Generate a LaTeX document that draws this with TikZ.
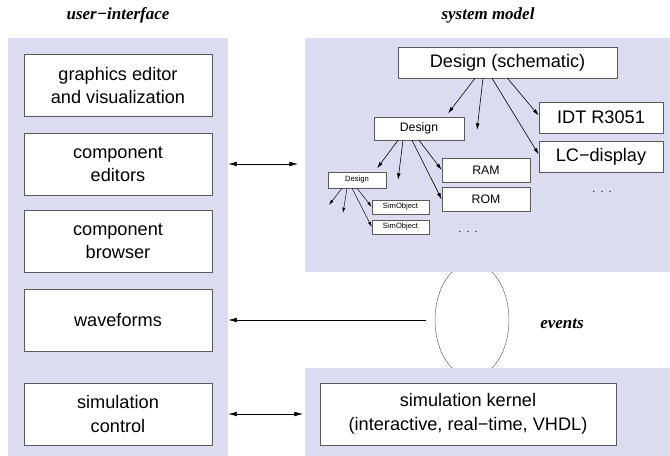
\documentclass[tikz,border=0pt]{standalone}
\usepackage{fontspec}
\setmainfont{Liberation Sans}
\newfontfamily\capfont{Liberation Serif}
\usetikzlibrary{arrows.meta,shapes.geometric}
\definecolor{panel}{RGB}{220,220,240}
\definecolor{rim}{RGB}{90,90,90}

\begin{document}
\begin{tikzpicture}[x=0.03cm, y=-0.03cm,
    panelbox/.style = {fill=panel, draw=none, inner sep=0pt},
    unit/.style = {draw=rim, fill=white, line width=0.5pt, inner sep=0pt, align=center},
    bigbox/.style = {unit, font=\fontsize{15.5}{20}\selectfont},
    midbox/.style = {unit, font=\fontsize{10.5}{12}\selectfont},
    smallbox/.style = {unit, line width=0.4pt, font=\fontsize{6.5}{8}\selectfont},
    caption/.style = {font=\capfont\bfseries\itshape\fontsize{14.5}{17}\selectfont},
    arr/.style = {-{Latex[length=2.6mm,width=1.4mm]}, line width=0.5pt},
    both/.style = {{Latex[length=2.6mm,width=1.4mm]}-{Latex[length=2.6mm,width=1.4mm]}, line width=0.5pt},
    sub/.style = {-{Latex[length=2mm,width=1.1mm]}, line width=0.5pt},
    subsub/.style = {-{Latex[length=1.6mm,width=0.9mm]}, line width=0.4pt}]
\useasboundingbox (0,0) rectangle (670,456);

% events lens, partly hidden by the panels
\node[draw=rim, ellipse, line width=0.4pt, minimum width=2.22cm, minimum height=3.42cm] (lens) at (472,320) {};

% panels
\node[panelbox, minimum width=6.6cm, minimum height=12.54cm] (ui) at (118,247) {};
\node[panelbox, minimum width=10.95cm, minimum height=7.02cm] (sm) at (487.5,155) {};
\node[panelbox, minimum width=10.95cm, minimum height=2.64cm] (sk) at (487.5,412) {};

\node[caption] (uit) at (118,15) {user−interface};
\node[caption] (smt) at (488,15) {system model};
\node[caption] (evt) at (562,324) {events};

% user-interface
\node[bigbox, minimum width=5.64cm, minimum height=1.86cm] (gfx) at (118,85.5) {graphics editor\\and visualization};
\node[bigbox, minimum width=5.64cm, minimum height=1.86cm] (ced) at (118,164) {component\\editors};
\node[bigbox, minimum width=5.64cm, minimum height=1.86cm] (cbr) at (118,241) {component\\browser};
\node[bigbox, minimum width=5.64cm, minimum height=1.86cm] (wav) at (118,320.5) {waveforms};
\node[bigbox, minimum width=5.64cm, minimum height=1.86cm] (ctl) at (118,414) {simulation\\control};

% system model
\node[bigbox, minimum width=6.57cm, minimum height=0.93cm] (dsch) at (507.5,62.5) {Design (schematic)};
\node[bigbox, minimum width=3.72cm, minimum height=0.93cm] (idt) at (601,117.5) {IDT R3051};
\node[bigbox, minimum width=3.72cm, minimum height=0.93cm] (lcd) at (601,156.5) {LC−display};
\node[midbox, minimum width=2.7cm, minimum height=0.69cm] (des) at (419,128.5) {Design};
\node[midbox, minimum width=2.64cm, minimum height=0.71cm] (ram) at (486,170) {RAM};
\node[midbox, minimum width=2.64cm, minimum height=0.71cm] (rom) at (486,199.5) {ROM};
\node[smallbox, minimum width=1.74cm, minimum height=0.48cm] (sdes) at (357,180) {Design};
\node[smallbox, minimum width=1.71cm, minimum height=0.42cm] (so1) at (400.5,207) {SimObject};
\node[smallbox, minimum width=1.71cm, minimum height=0.42cm] (so2) at (400.5,227) {SimObject};
\node[font=\fontsize{9}{10}\selectfont] (more1) at (602,192) {.\enspace.\enspace.};
\node[font=\fontsize{9}{10}\selectfont] (more2) at (468,232) {.\enspace.\enspace.};

\coordinate (free1) at (477,130);
\coordinate (free2) at (398,180);
\coordinate (free3) at (329,205);
\coordinate (free4) at (343,213);

\draw[sub] ([xshift=-0.975cm]dsch.south) -- ([xshift=0.87cm,yshift=0.1cm]des.north);
\draw[sub] ([xshift=-0.735cm]dsch.south) -- (free1);
\draw[sub] ([xshift=-0.465cm]dsch.south) -- ([yshift=0.06cm]lcd.west);
\draw[sub] (dsch.south) -- ([yshift=0.06cm]idt.west);

\draw[sub] ([xshift=-0.63cm]des.south) -- ([xshift=0.6cm,yshift=0.1cm]sdes.north);
\draw[sub] ([xshift=-0.48cm]des.south) -- (free2);
\draw[sub] ([xshift=-0.21cm]des.south) -- (rom.west);
\draw[sub] (des.south) -- (ram.west);

\draw[subsub] ([xshift=-0.45cm]sdes.south) -- (free3);
\draw[subsub] ([xshift=-0.3cm]sdes.south) -- (free4);
\draw[subsub] ([xshift=-0.15cm]sdes.south) -- (so2.west);
\draw[subsub] (sdes.south) -- (so1.west);

% simulation kernel
\node[bigbox, minimum width=8.88cm, minimum height=1.86cm] (kern) at (468,414) {simulation kernel\\(interactive, real−time, VHDL)};

% links between the parts
\draw[both] (ui.east |- ced) -- ([xshift=-0.2cm]sm.west |- ced);
\draw[arr, shorten <=0.25cm] (lens.west) -- (ui.east |- lens.west);
\draw[both] (ui.east |- ctl) -- ([xshift=-0.05cm]sk.west |- ctl);
\end{tikzpicture}
\end{document}
